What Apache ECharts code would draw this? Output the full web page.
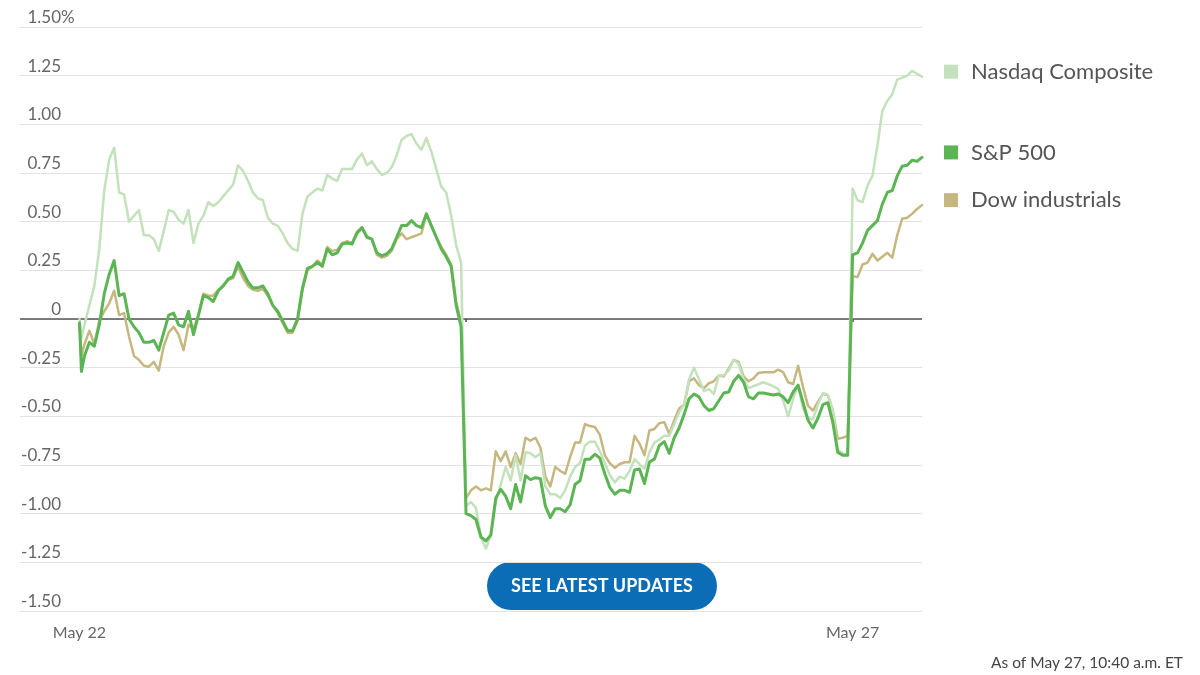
<!DOCTYPE html>
<html><head><meta charset="utf-8">
<script src="https://cdn.jsdelivr.net/npm/echarts@6/dist/echarts.min.js"></script>
<style>html,body{margin:0;padding:0;background:#fff}#c{width:1200px;height:675px}</style>
</head><body><div id="c"></div>
<script>
// minutes of trading since May 22 open (each session = 390 minutes)
const minutes = [
  0,2,5,10,15,20,25,30,35,40,45,50,55,60,65,70,75,80,85,90,95,100,105,110,115,120,125,130,135,140,145,150,155,160,165,170,175,180,185,190,195,200,205,210,215,220,225,230,235,240,245,250,255,260,265,270,275,280,285,290,295,300,305,310,315,320,325,330,335,340,345,350,355,360,365,370,375,380,385,
  390,395,400,405,410,415,420,425,430,435,440,445,450,455,460,465,470,475,480,485,490,495,500,505,510,515,520,525,530,535,540,545,550,555,560,565,570,575,580,585,590,595,600,605,610,615,620,625,630,635,640,645,650,655,660,665,670,675,680,685,690,695,700,705,710,715,720,725,730,735,740,745,750,755,760,765,770,775,
  780,785,790,795,800,805,810,815,820,825,830,835,840,845,850
];
const nasdaq = [
  0.00,-0.10,-0.03,0.07,0.17,0.36,0.66,0.82,0.88,0.65,0.64,0.50,0.53,0.56,0.43,0.43,0.41,0.35,0.45,0.56,0.55,0.51,0.49,0.56,0.39,0.49,0.53,0.60,0.58,0.60,0.63,0.66,0.69,0.79,0.76,0.71,0.65,0.62,0.61,0.52,0.49,0.48,0.44,0.39,0.36,0.35,0.54,0.63,0.65,0.67,0.66,0.74,0.72,0.71,0.77,0.77,0.77,0.82,0.85,0.79,0.81,0.77,0.74,0.75,0.78,0.84,0.92,0.94,0.95,0.90,0.87,0.93,0.86,0.77,0.68,0.65,0.53,0.38,0.29,
  -0.96,-0.94,-0.97,-1.12,-1.18,-1.11,-0.94,-0.85,-0.76,-0.83,-0.70,-0.83,-0.685,-0.69,-0.71,-0.69,-0.86,-0.90,-0.90,-0.92,-0.88,-0.81,-0.76,-0.74,-0.65,-0.63,-0.63,-0.68,-0.74,-0.80,-0.84,-0.81,-0.82,-0.78,-0.72,-0.745,-0.77,-0.685,-0.635,-0.62,-0.60,-0.60,-0.54,-0.48,-0.44,-0.31,-0.25,-0.31,-0.37,-0.36,-0.385,-0.29,-0.29,-0.265,-0.21,-0.23,-0.31,-0.355,-0.345,-0.335,-0.325,-0.335,-0.345,-0.36,-0.42,-0.50,-0.41,-0.34,-0.46,-0.51,-0.515,-0.44,-0.38,-0.39,-0.47,-0.67,-0.69,-0.70,
  0.67,0.61,0.60,0.685,0.735,0.89,1.07,1.12,1.155,1.23,1.24,1.25,1.275,1.26,1.245
];
const sp500 = [
  -0.02,-0.27,-0.19,-0.12,-0.14,-0.03,0.13,0.23,0.30,0.12,0.13,0.00,-0.04,-0.07,-0.12,-0.12,-0.11,-0.16,-0.07,0.02,0.03,-0.03,-0.04,0.04,-0.08,0.02,0.12,0.11,0.09,0.145,0.17,0.205,0.22,0.29,0.24,0.19,0.16,0.16,0.17,0.13,0.07,0.04,-0.01,-0.06,-0.06,0.00,0.16,0.26,0.27,0.29,0.27,0.36,0.33,0.34,0.385,0.39,0.385,0.44,0.47,0.42,0.41,0.34,0.325,0.335,0.36,0.42,0.48,0.48,0.505,0.48,0.47,0.54,0.48,0.42,0.36,0.32,0.27,0.07,-0.04,
  -1.00,-1.01,-1.03,-1.12,-1.14,-1.11,-0.92,-0.875,-0.91,-0.975,-0.85,-0.94,-0.805,-0.825,-0.815,-0.82,-0.96,-1.02,-0.975,-0.975,-0.99,-0.955,-0.85,-0.83,-0.72,-0.72,-0.695,-0.715,-0.795,-0.865,-0.90,-0.88,-0.88,-0.89,-0.775,-0.77,-0.845,-0.735,-0.72,-0.65,-0.63,-0.69,-0.61,-0.56,-0.49,-0.41,-0.385,-0.40,-0.445,-0.47,-0.46,-0.42,-0.38,-0.375,-0.32,-0.29,-0.325,-0.40,-0.41,-0.38,-0.38,-0.385,-0.39,-0.385,-0.40,-0.43,-0.375,-0.34,-0.43,-0.52,-0.56,-0.51,-0.44,-0.43,-0.53,-0.685,-0.70,-0.70,
  0.33,0.34,0.39,0.455,0.48,0.505,0.59,0.65,0.66,0.735,0.785,0.79,0.815,0.81,0.83
];
const dow = [
  -0.02,-0.19,-0.13,-0.06,-0.13,-0.01,0.04,0.08,0.145,0.02,0.03,-0.09,-0.19,-0.21,-0.24,-0.245,-0.22,-0.265,-0.14,-0.07,-0.04,-0.08,-0.16,-0.03,-0.05,0.02,0.13,0.12,0.12,0.15,0.17,0.20,0.21,0.27,0.21,0.17,0.15,0.145,0.155,0.12,0.07,0.03,-0.02,-0.07,-0.07,-0.01,0.15,0.25,0.27,0.30,0.28,0.37,0.35,0.355,0.39,0.40,0.39,0.45,0.47,0.425,0.41,0.33,0.315,0.325,0.35,0.41,0.44,0.41,0.42,0.43,0.44,0.54,0.48,0.42,0.37,0.33,0.28,0.09,-0.02,
  -0.92,-0.88,-0.86,-0.88,-0.87,-0.88,-0.68,-0.73,-0.68,-0.76,-0.69,-0.745,-0.61,-0.625,-0.61,-0.66,-0.81,-0.86,-0.76,-0.78,-0.795,-0.71,-0.635,-0.634,-0.54,-0.55,-0.555,-0.595,-0.70,-0.74,-0.765,-0.745,-0.736,-0.736,-0.60,-0.64,-0.70,-0.573,-0.565,-0.535,-0.53,-0.59,-0.52,-0.46,-0.44,-0.32,-0.305,-0.34,-0.355,-0.33,-0.32,-0.29,-0.295,-0.255,-0.21,-0.22,-0.295,-0.32,-0.305,-0.277,-0.274,-0.274,-0.274,-0.26,-0.274,-0.325,-0.334,-0.24,-0.35,-0.445,-0.47,-0.425,-0.385,-0.39,-0.47,-0.615,-0.61,-0.60,
  0.22,0.215,0.28,0.29,0.335,0.30,0.32,0.34,0.315,0.43,0.515,0.52,0.54,0.565,0.585
];
const seriesNames = ['Nasdaq Composite', 'S&P 500', 'Dow industrials'];
const tickMinutes = [0, 390, 780];
const tickLabels = ['May 22', '', 'May 27'];
const footnote = 'As of May 27, 10:40 a.m. ET';
const buttonText = 'SEE LATEST UPDATES';

const colors = { 'Nasdaq Composite': '#c3e2bc', 'S&P 500': '#5bb553', 'Dow industrials': '#c6b780' };
const FONT = 'Lato, "Noto Sans", sans-serif';

function pairs(vals) { return minutes.map((m, i) => [m, vals[i]]); }

function mkSeries(name, vals, width, z) {
  return {
    name, type: 'line', data: pairs(vals), showSymbol: false, symbol: 'none',
    z, lineStyle: { color: colors[name], width: width, join: 'round', cap: 'round' },
    itemStyle: { color: colors[name] },
    emphasis: { disabled: true },
    endLabel: {
      show: true, distance: 22, offset: [0, -5],
      formatter: '{sq|}{t|' + name + '}',
      rich: {
        sq: { width: 14, height: 14, backgroundColor: colors[name] },
        t: { fontFamily: FONT, fontSize: 22, color: '#555', padding: [0, 0, 0, 13] }
      }
    }
  };
}

const chart = echarts.init(document.getElementById('c'), null, { renderer: 'canvas' });
const series = [
  mkSeries('Dow industrials', dow, 2.5, 2),
  mkSeries('Nasdaq Composite', nasdaq, 2.5, 3),
  mkSeries('S&P 500', sp500, 3, 4)
];
series[0].markLine = {
  silent: true, symbol: 'none', label: { show: false },
  lineStyle: { color: '#555', width: 1.5, type: 'solid' },
  data: [{ yAxis: 0 }], z: 1
};

chart.setOption({
  animation: false,
  backgroundColor: '#fff',
  grid: { left: 20, right: 278, top: 27, bottom: 64, containLabel: false },
  xAxis: {
    type: 'value', min: -60, max: 850,
    axisLine: { show: false },
    splitLine: { show: false },
    axisTick: { show: true, customValues: tickMinutes, length: 3, lineStyle: { color: '#444', width: 1.5 } },
    axisLabel: {
      show: true, customValues: tickMinutes, margin: 14,
      fontFamily: FONT, fontSize: 16, color: '#666',
      formatter: v => tickLabels[tickMinutes.indexOf(v)] || ''
    }
  },
  yAxis: {
    type: 'value', min: -1.5, max: 1.5, interval: 0.25,
    axisLine: { show: false }, axisTick: { show: false },
    splitLine: { show: true, lineStyle: { color: '#e3e3e3', width: 1 } },
    axisLabel: {
      inside: true, align: 'right', margin: 41, verticalAlign: 'bottom',
      padding: [0, 0, 1, 0],
      fontFamily: FONT, fontSize: 17, color: '#666',
      formatter: v => {
        const s = v === 0 ? '0' : v.toFixed(2);
        return v === 1.5 ? '{n|' + s + '}{p|%}' : '{n|' + s + '}';
      },
      rich: {
        n: { fontFamily: FONT, fontSize: 17, color: '#666', align: 'left' },
        p: { fontFamily: FONT, fontSize: 17, color: '#666', width: 0, align: 'left' }
      }
    }
  },
  series,
  graphic: [
    {
      type: 'group', left: 487, top: 562, z: 100,
      children: [
        { type: 'rect', shape: { x: 0, y: 0, width: 230, height: 48, r: 24 }, style: { fill: '#0b6db5' } },
        { type: 'text', x: 115, y: 24, style: { text: buttonText, fill: '#fff', font: 'bold 18px ' + FONT, align: 'center', verticalAlign: 'middle' } }
      ]
    },
    { type: 'text', right: 17, top: 655, z: 100, style: { text: footnote, fill: '#444', font: '15.5px ' + FONT } }
  ]
});
</script></body></html>
